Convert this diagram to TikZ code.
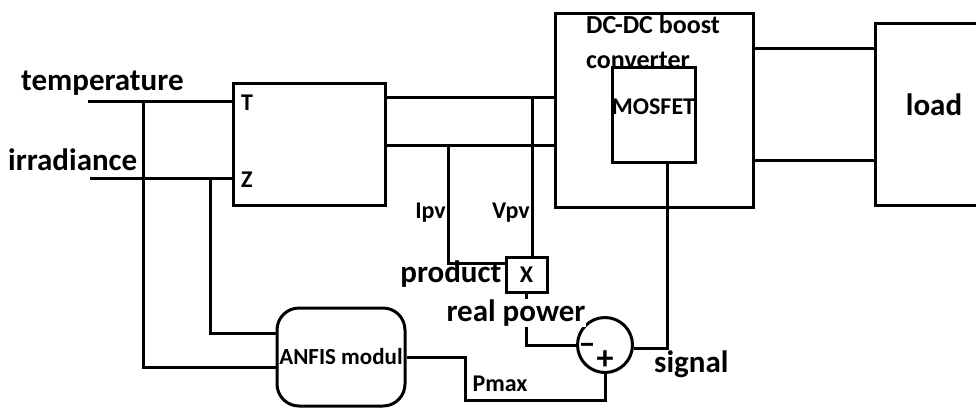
\documentclass[tikz,border=0pt]{standalone}
\usepackage{fontspec}
\setmainfont{Carlito}
\usetikzlibrary{positioning}

\begin{document}
\begin{tikzpicture}[
  x=1pt, y=-1pt,
  blk/.style={draw, rectangle, line width=3pt, inner sep=0pt},
  wire/.style={line width=3pt},
  big/.style={font=\fontsize{31}{34}\selectfont\bfseries, inner sep=1pt},
  mid/.style={font=\fontsize{26}{29}\selectfont\bfseries, inner sep=1pt},
  small/.style={font=\fontsize{24}{26}\selectfont\bfseries, inner sep=1pt},
  sign/.style={font=\fontsize{34}{34}\selectfont\bfseries, inner sep=0pt, text height=0.5em, text depth=0pt}
]
\useasboundingbox (0,0) rectangle (976,408);
\clip (0,0) rectangle (976,408);

% Nodes
\node[blk, minimum width=152, minimum height=122] (pv) at (309,144) {};
\node[blk, minimum width=198, minimum height=194] (conv) at (654,110) {};
\node[blk, minimum width=83, minimum height=95] (mosfet) at (653.5,114.5) {};
\node[blk, minimum width=130, minimum height=182] (load) at (940,114) {};
\node[blk, minimum width=41, minimum height=35, small] (prod) at (526.5,274.5) {X};
\node[draw, circle, line width=3pt, minimum size=55, inner sep=0pt] (sum) at (605,345) {};
\node[blk, rounded corners=22pt, minimum width=128, minimum height=98,
      font=\fontsize{23}{25}\selectfont\bfseries] (anfis) at (341,357) {ANFIS modul};

% Wire rows and taps
\coordinate (tin) at (88,101);
\coordinate (zin) at (90,178);
\coordinate (j1) at (143,101);
\coordinate (j2) at (210,178);
\coordinate (vrow) at (0,97);
\coordinate (irow) at (0,145);
\coordinate (vtap) at (532,97);
\coordinate (itap) at (448,145);
\coordinate (lrow1) at (0,48);
\coordinate (lrow2) at (0,160);
\coordinate (pbend) at (465,400);

% Inputs
\draw[wire] (tin) -- (pv.west |- tin);
\draw[wire] (zin) -- (pv.west |- zin);
\draw[wire] (j1) |- ([yshift=-10pt]anfis.west);
\draw[wire] (j2) |- ([yshift=24pt]anfis.west);

% PV to converter and load
\draw[wire] (pv.east |- vrow) -- (conv.west |- vrow);
\draw[wire] (pv.east |- irow) -- (conv.west |- irow);
\draw[wire] (conv.east |- lrow1) -- (load.west |- lrow1);
\draw[wire] (conv.east |- lrow2) -- (load.west |- lrow2);

% Measurement and control
\draw[wire] (vtap) -- (vtap |- prod.north);
\draw[wire] (itap) |- ([yshift=11.5pt]prod.west);
\draw[wire] (prod.south) |- (sum.west);
\draw[wire] (anfis.east) -| (pbend) -| (sum.south);
\draw[wire] ([yshift=-3pt]sum.east) -| ([xshift=14pt]mosfet.south);

% Labels
\node[big, anchor=west] (ltemp) at (20,83) {temperature};
\node[big, anchor=west] (lirr) at (7,160) {irradiance};
\node[small, anchor=west] (lT) at (240,103) {T};
\node[small, anchor=west] (lZ) at (240,180) {Z};
\node[mid, anchor=west] (lconv1) at (585,24) {DC-DC boost};
\node[mid, anchor=west] (lconv2) at (585,60) {converter};
\node[small] (lmos) at (653.5,107) {MOSFET};
\node[big] (lload) at (934,105) {load};
\node[small, anchor=east] (lipv) at (447,213) {Ipv};
\node[small, anchor=east] (lvpv) at (531,213) {Vpv};
\node[big, left=2pt of prod] (lprod) {product};
\node[big, fill=white] (lreal) at (516,313) {real power};
\node[big, anchor=west] (lsig) at (653,364) {signal};
\node[small] (lpmax) at (500,384) {Pmax};
\node[sign] (lminus) at (587,352) {–};
\node[sign] (lplus) at (605,367) {+};
\end{tikzpicture}
\end{document}
